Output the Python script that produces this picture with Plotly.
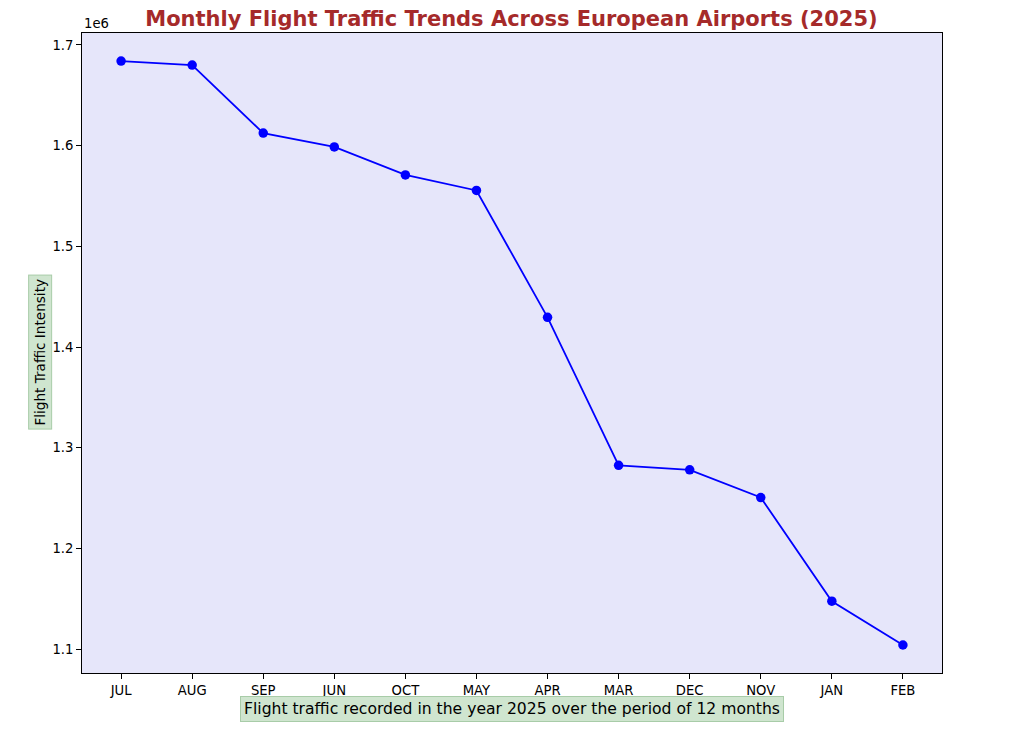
import plotly.graph_objects as go

months = ["JUL", "AUG", "SEP", "JUN", "OCT", "MAY", "APR", "MAR", "DEC", "NOV", "JAN", "FEB"]
traffic = [1684000, 1680000, 1612500, 1598700, 1570900, 1555500, 1429500, 1282500, 1278000, 1250500, 1147500, 1104000]
ytick_vals = [1100000, 1200000, 1300000, 1400000, 1500000, 1600000, 1700000]
ytick_text = ["1.1", "1.2", "1.3", "1.4", "1.5", "1.6", "1.7"]

font = "DejaVu Sans"

fig = go.Figure()
fig.add_trace(go.Scatter(
    x=list(range(len(months))), y=traffic, mode="lines+markers",
    line=dict(color="blue", width=1.8),
    marker=dict(color="blue", size=9.5),
    showlegend=False,
))

fig.update_layout(
    width=1015, height=734,
    margin=dict(l=74, r=81, t=25, b=69),
    paper_bgcolor="white",
    plot_bgcolor="#e6e6fa",
    font=dict(family=font, size=12, color="black"),
    title=dict(
        text="<b>Monthly Flight Traffic Trends Across European Airports (2025)</b>",
        x=0.496, xanchor="center", y=0.986, yanchor="middle",
        font=dict(family=font, size=21, color="#a52a2a"),
    ),
)

fig.update_xaxes(
    range=[-0.55, 11.55],
    tickvals=list(range(len(months))), ticktext=months,
    showgrid=False, zeroline=False,
    showline=True, linecolor="black", linewidth=1, mirror=True,
    ticks="outside", ticklen=5, tickcolor="black",
    tickfont=dict(size=13.2),
)
fig.update_yaxes(
    range=[1076200, 1711900],
    tickvals=ytick_vals, ticktext=ytick_text,
    showgrid=False, zeroline=False,
    showline=True, linecolor="black", linewidth=1, mirror=True,
    ticks="outside", ticklen=5, tickcolor="black",
    tickfont=dict(size=13.2),
)

# offset text
fig.add_annotation(
    text="1e6", xref="paper", yref="paper", x=0, y=1, xanchor="left", yanchor="bottom",
    showarrow=False, font=dict(size=13.2), yshift=0,
)
# y label in a box
fig.add_annotation(
    text="Flight Traffic Intensity", xref="paper", yref="paper",
    x=-0.049, y=0.502, xanchor="center", yanchor="middle", textangle=-90,
    showarrow=False, font=dict(size=13.6),
    bgcolor="#cfe5cf", bordercolor="#a8cca8", borderwidth=1, borderpad=3,
)
# x label in a box
fig.add_annotation(
    text="Flight traffic recorded in the year 2025 over the period of 12 months",
    xref="paper", yref="paper", x=0.5, y=-0.0563, xanchor="center", yanchor="middle",
    showarrow=False, font=dict(size=15.6),
    bgcolor="#cfe5cf", bordercolor="#a8cca8", borderwidth=1, borderpad=3,
)

fig.write_html("out.html")
